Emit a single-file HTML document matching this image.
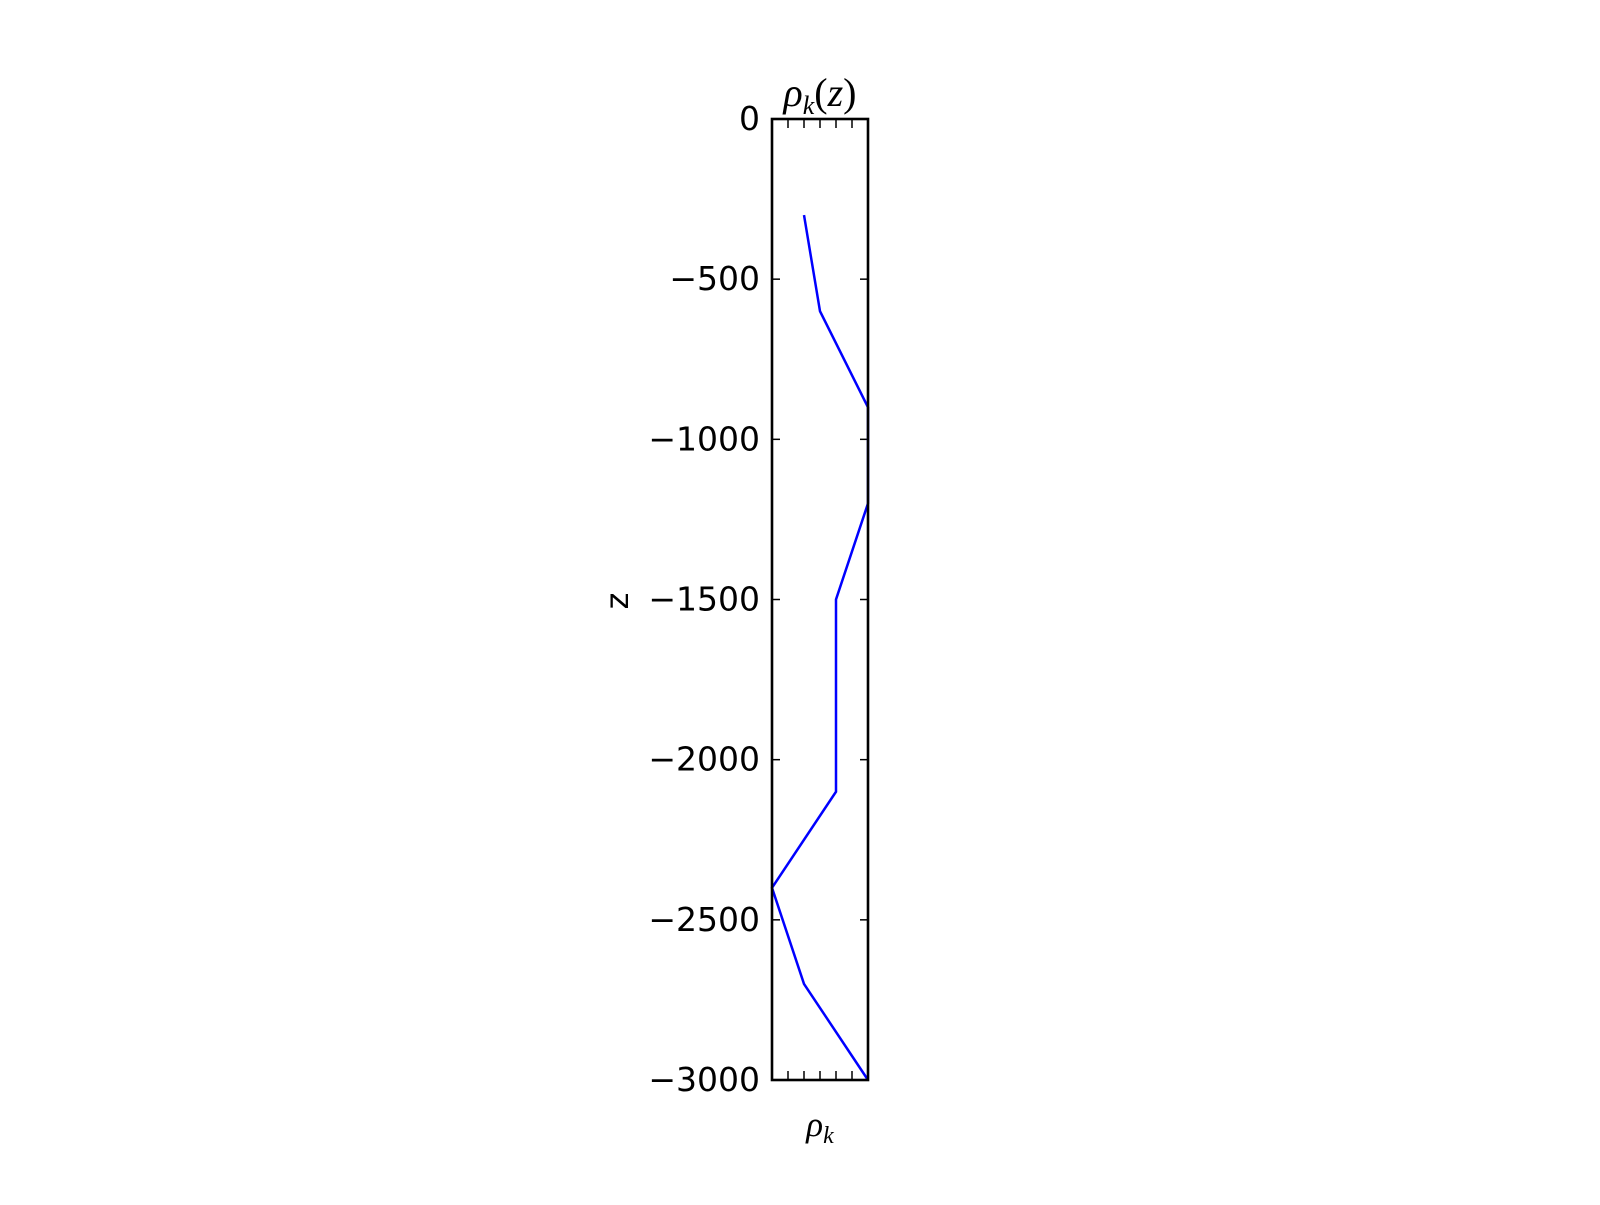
<!DOCTYPE html>
<html><head><meta charset="utf-8"><style>
body{margin:0;background:#fff;}
svg text{font-family:"DejaVu Sans","Liberation Sans",sans-serif;}
</style></head><body>
<svg id="chart" width="1600" height="1200" xmlns="http://www.w3.org/2000/svg">
<rect width="1600" height="1200" fill="#fff"/>
<g id="ticks"></g>
<path id="line" fill="none" stroke="#0000ff" stroke-width="2.5"/>
<rect x="772" y="119" width="96" height="961" fill="none" stroke="#000" stroke-width="2.6"/>
<text x="820" y="106" font-style="italic" font-size="40" text-anchor="middle" style="font-family:'Liberation Serif',serif">ρ<tspan font-size="26" dy="8">k</tspan><tspan dy="-8" font-style="normal">(</tspan>z<tspan font-style="normal">)</tspan></text>
<text x="820" y="1136" font-style="italic" font-size="35" text-anchor="middle" style="font-family:'Liberation Serif',serif">ρ<tspan font-size="24" dy="7">k</tspan></text>
<text transform="translate(628,601) rotate(-90)" font-size="32" text-anchor="middle">z</text>
</svg>
<script>
const zValues=[-300,-600,-900,-1200,-1500,-2100,-2400,-2700,-3000];
const rhoValues=[2,3,6,6,4,4,0,2,6];
const yTicks=[0,-500,-1000,-1500,-2000,-2500,-3000];
const xTicks=[1,2,3,4,5];
const X=v=>772+v*(96/6);
const Y=v=>119+(-v)*(961/3000);
const NS="http://www.w3.org/2000/svg";
const g=document.getElementById('ticks');
function ln(x1,y1,x2,y2,n){const l=document.createElementNS(NS,'line');
l.setAttribute('x1',x1);l.setAttribute('y1',y1);l.setAttribute('x2',x2);l.setAttribute('y2',y2);
l.setAttribute('stroke','#000');l.setAttribute('stroke-width','1.5');


g.appendChild(l);}
yTicks.forEach(t=>{const y=Y(t);
ln(772,y,780,y,'y-tick');ln(868,y,860,y,'y-tick-right');
const tx=document.createElementNS(NS,'text');
tx.setAttribute('x',760);tx.setAttribute('y',y+11);tx.setAttribute('text-anchor','end');tx.setAttribute('font-size','33');
tx.textContent=t<0?'\u2212'+(-t):String(t);


g.appendChild(tx);});
xTicks.forEach(t=>{const x=X(t);ln(x,119,x,128,'x-tick-top');ln(x,1080,x,1071,'x-tick-bottom');});
document.getElementById('line').setAttribute('d',zValues.map((z,i)=>(i?'L':'M')+X(rhoValues[i])+' '+Y(z)).join(' '));
</script>
</body></html>
